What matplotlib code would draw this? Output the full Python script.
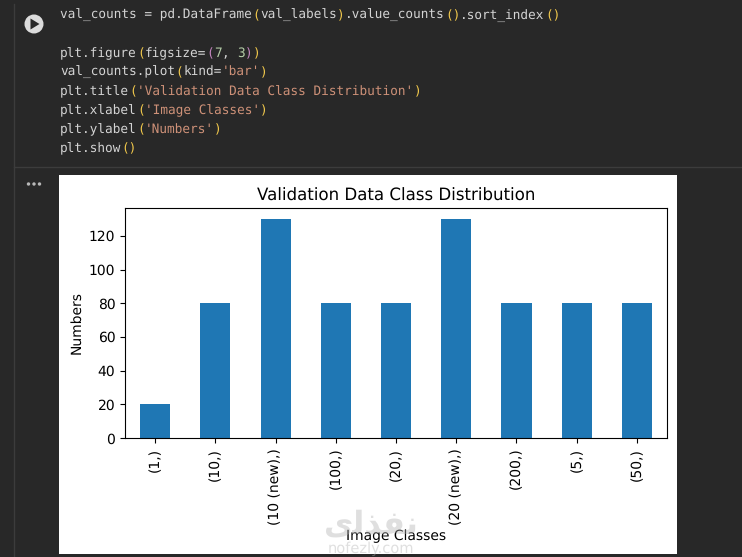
import matplotlib
matplotlib.use('Agg')
import matplotlib.pyplot as plt
from matplotlib.patches import Circle, Polygon, Rectangle

# exact glyph advances so the code stays on its character grid
plt.rcParams['text.hinting'] = 'no_hinting'

# chart data
classes = ['(1,)', '(10,)', '(10 (new),)', '(100,)', '(20,)', '(20 (new),)', '(200,)', '(5,)', '(50,)']
numbers = [20, 80, 130, 80, 80, 130, 80, 80, 80]
yticks = [0, 20, 40, 60, 80, 100, 120]

# notebook code, one list of (text, colour) per line
WHITE = '#d4d4d4'
GOLD = '#f2c94c'
PURPLE = '#c586c0'
STR = '#ce9178'
NUM = '#b5cea8'
code_lines = [
    [('val_counts = pd.DataFrame', WHITE), ('(', GOLD), ('val_labels', WHITE), (')', GOLD),
     ('.value_counts', WHITE), ('()', GOLD), ('.sort_index', WHITE), ('()', GOLD)],
    [],
    [('plt.figure', WHITE), ('(', GOLD), ('figsize=', WHITE), ('(', PURPLE), ('7', NUM), (', ', WHITE),
     ('3', NUM), (')', PURPLE), (')', GOLD)],
    [('val_counts.plot', WHITE), ('(', GOLD), ('kind=', WHITE), ("'bar'", STR), (')', GOLD)],
    [('plt.title', WHITE), ('(', GOLD), ("'Validation Data Class Distribution'", STR), (')', GOLD)],
    [('plt.xlabel', WHITE), ('(', GOLD), ("'Image Classes'", STR), (')', GOLD)],
    [('plt.ylabel', WHITE), ('(', GOLD), ("'Numbers'", STR), (')', GOLD)],
    [('plt.show', WHITE), ('()', GOLD)],
]

W, H = 742, 557
fig = plt.figure(figsize=(W / 100, H / 100), dpi=100, facecolor='#282828')

# whole figure in pixel coordinates for the notebook parts
bg = fig.add_axes([0, 0, 1, 1])
bg.set_xlim(0, W)
bg.set_ylim(H, 0)
bg.axis('off')
bg.plot([13.5, 13.5], [4, H], color='#3c3c3c', lw=1)
bg.plot([14, W], [167, 167], color='#3c3c3c', lw=1)
bg.add_patch(Rectangle((59, 175), 618, 379, color='white', lw=0))

# run button and output menu
bg.add_patch(Circle((34, 24), 9.5, color='#dcdcdc', lw=0))
bg.add_patch(Polygon([(30.5, 18.5), (30.5, 29.5), (39.5, 24)], color='#282828', lw=0))
for x in [28.5, 34, 39.5]:
    bg.add_patch(Circle((x, 184), 1.7, color='#b8b8b8', lw=0))

# code, laid out on the character grid
char_w = 7.7
for i, line in enumerate(code_lines):
    n = 0
    for text, colour in line:
        bg.text(60 + n * char_w, 15.5 + i * 19.05, text, color=colour, family='DejaVu Sans Mono',
                fontsize=9.2, va='center', ha='left')
        n += len(text)

# the bar chart
ax = fig.add_axes([125 / W, 1 - 438 / H, (667 - 125) / W, (438 - 208) / H])
ax.bar(range(len(classes)), numbers, width=0.5, color='#1f77b4')
ax.set_xlim(-0.5, len(classes) - 0.5)
ax.set_ylim(0, 136.5)
ax.set_xticks(range(len(classes)))
ax.set_xticklabels(classes, rotation=90)
ax.set_yticks(yticks)
ax.tick_params(labelsize=10)
ax.set_title('Validation Data Class Distribution', fontsize=12, pad=5)
ax.set_ylabel('Numbers', fontsize=10)
fig.text(396 / W, 1 - 536 / H, 'Image Classes', fontsize=10, ha='center', va='center')

# watermark
fig.text(371 / W, 1 - 525 / H, '\ufeef\ufedf\ufeac\ufed4\ufee7', fontsize=23, color='#b0b0b0',
         alpha=0.4, ha='center', va='center', weight='bold')
fig.text(371 / W, 1 - 549 / H, 'nofezly.com', fontsize=10.5, color='#b0b0b0', alpha=0.4,
         ha='center', va='center')

fig.savefig('out.png', dpi=100, facecolor=fig.get_facecolor())
